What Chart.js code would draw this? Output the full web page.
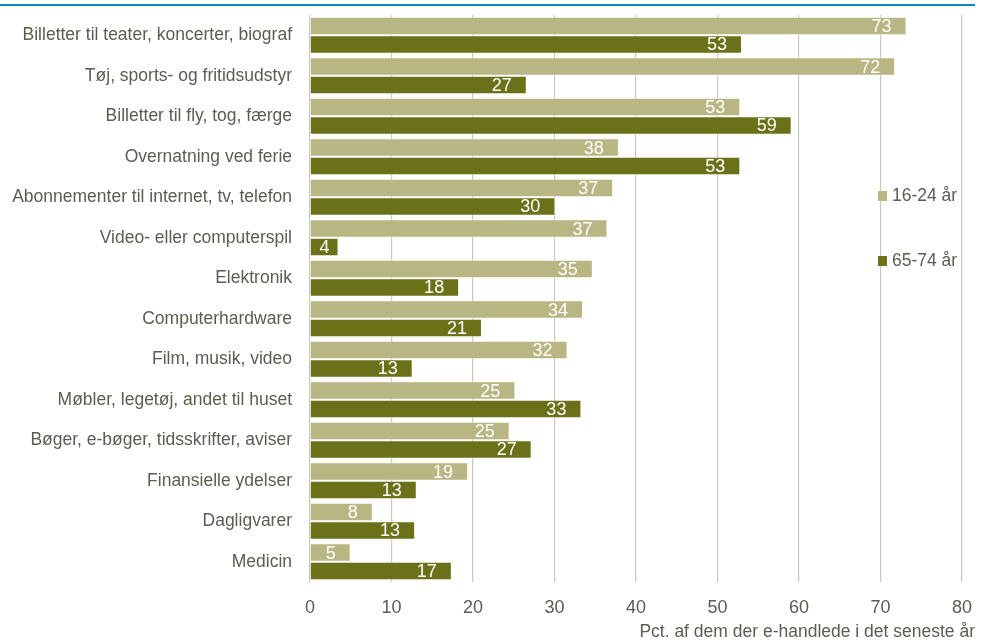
<!DOCTYPE html>
<html>
<head>
<meta charset="utf-8">
<script src="https://cdn.jsdelivr.net/npm/chart.js@4"></script>
<style>
  html, body { margin: 0; padding: 0; background: #fff; }
  #wrap { position: relative; width: 982px; height: 642px; }
  #topline { position: absolute; left: 0; top: 4px; width: 975px; height: 2px; background: #0b87c9; }
</style>
</head>
<body>
<div id="wrap">
  <div id="topline"></div>
  <canvas id="chart" width="982" height="642"></canvas>
</div>
<script>
// categories, top to bottom
const categories = [
  "Billetter til teater, koncerter, biograf",
  "Tøj, sports- og fritidsudstyr",
  "Billetter til fly, tog, færge",
  "Overnatning ved ferie",
  "Abonnementer til internet, tv, telefon",
  "Video- eller computerspil",
  "Elektronik",
  "Computerhardware",
  "Film, musik, video",
  "Møbler, legetøj, andet til huset",
  "Bøger, e-bøger, tidsskrifter, aviser",
  "Finansielle ydelser",
  "Dagligvarer",
  "Medicin"
]

const young = [73.2, 71.8, 52.8, 37.9, 37.2, 36.5, 34.7, 33.5, 31.6, 25.2, 24.5, 19.4, 7.7, 5.0]
const old   = [53.0, 26.6, 59.1, 52.8, 30.1, 3.5, 18.3, 21.1, 12.6, 33.3, 27.2, 13.1, 12.9, 17.4]

const seriesNames = ["16-24 år", "65-74 år"]
const xTicks = [0, 10, 20, 30, 40, 50, 60, 70, 80]
const xTitle = "Pct. af dem der e-handlede i det seneste år"

const lightCol = "#b8b682"
const darkCol = "#6b7119"
const textCol = "#5c5c52"
const gridCol = "#c9c9c0"
const FONT = "'Liberation Sans', Arial, sans-serif"

// white value labels at the inner end of each bar
const barLabels = {
  id: "barLabels",
  afterDatasetsDraw(chart) {
    const ctx = chart.ctx
    ctx.save()
    ctx.font = "18px " + FONT
    ctx.fillStyle = "#fff"
    ctx.textAlign = "right"
    ctx.textBaseline = "middle"
    chart.data.datasets.forEach((ds, i) => {
      chart.getDatasetMeta(i).data.forEach((bar, j) => {
        const txt = String(Math.round(ds.data[j]))
        const tw = ctx.measureText(txt).width
        const inset = Math.min(15, (bar.x - bar.base - tw) / 2)
        ctx.fillText(txt, bar.x - inset, bar.y + 1)
      })
    })
    ctx.restore()
  }
}

// legend + axis title drawn over the plot, like the original
const extras = {
  id: "extras",
  afterDraw(chart) {
    const ctx = chart.ctx
    ctx.save()
    ctx.font = "17.5px " + FONT
    ctx.textBaseline = "middle"
    const legY = [196, 261]
    chart.data.datasets.forEach((ds, i) => {
      ctx.fillStyle = ds.backgroundColor
      ctx.fillRect(878, legY[i] - 5, 9, 10)
      ctx.fillStyle = textCol
      ctx.textAlign = "left"
      ctx.fillText(ds.label, 892, legY[i])
    })
    ctx.textAlign = "right"
    ctx.fillText(xTitle, 975, 632)
    ctx.restore()
  }
}

new Chart(document.getElementById("chart"), {
  type: "bar",
  data: {
    labels: categories,
    datasets: [
      { label: seriesNames[0], data: young, backgroundColor: lightCol },
      { label: seriesNames[1], data: old, backgroundColor: darkCol }
    ]
  },
  options: {
    indexAxis: "y",
    responsive: false,
    animation: false,
    layout: { padding: { top: 15, right: 20, left: 0, bottom: 0 } },
    datasets: {
      bar: {
        categoryPercentage: 0.91,
        barPercentage: 1,
        borderColor: "rgba(255,255,255,0.55)",
        borderWidth: 1
      }
    },
    plugins: {
      legend: { display: false },
      tooltip: { enabled: false }
    },
    scales: {
      x: {
        min: 0,
        max: 80,
        afterBuildTicks(scale) { scale.ticks = xTicks.map(v => ({ value: v })) },
        afterFit(scale) {
          scale.height = 60
          scale.paddingLeft = 0
          scale.paddingRight = 0
        },
        grid: { color: gridCol, drawTicks: false, lineWidth: 1.2 },
        border: { display: false },
        ticks: { color: textCol, font: { family: FONT, size: 18 }, padding: 15 }
      },
      y: {
        afterFit(scale) {
          scale.width = 310
          scale.paddingTop = 0
          scale.paddingBottom = 0
        },
        grid: { display: false },
        border: { display: false },
        ticks: { color: textCol, font: { family: FONT, size: 17.5 }, padding: 10 }
      }
    }
  },
  plugins: [barLabels, extras]
})
</script>
</body>
</html>
